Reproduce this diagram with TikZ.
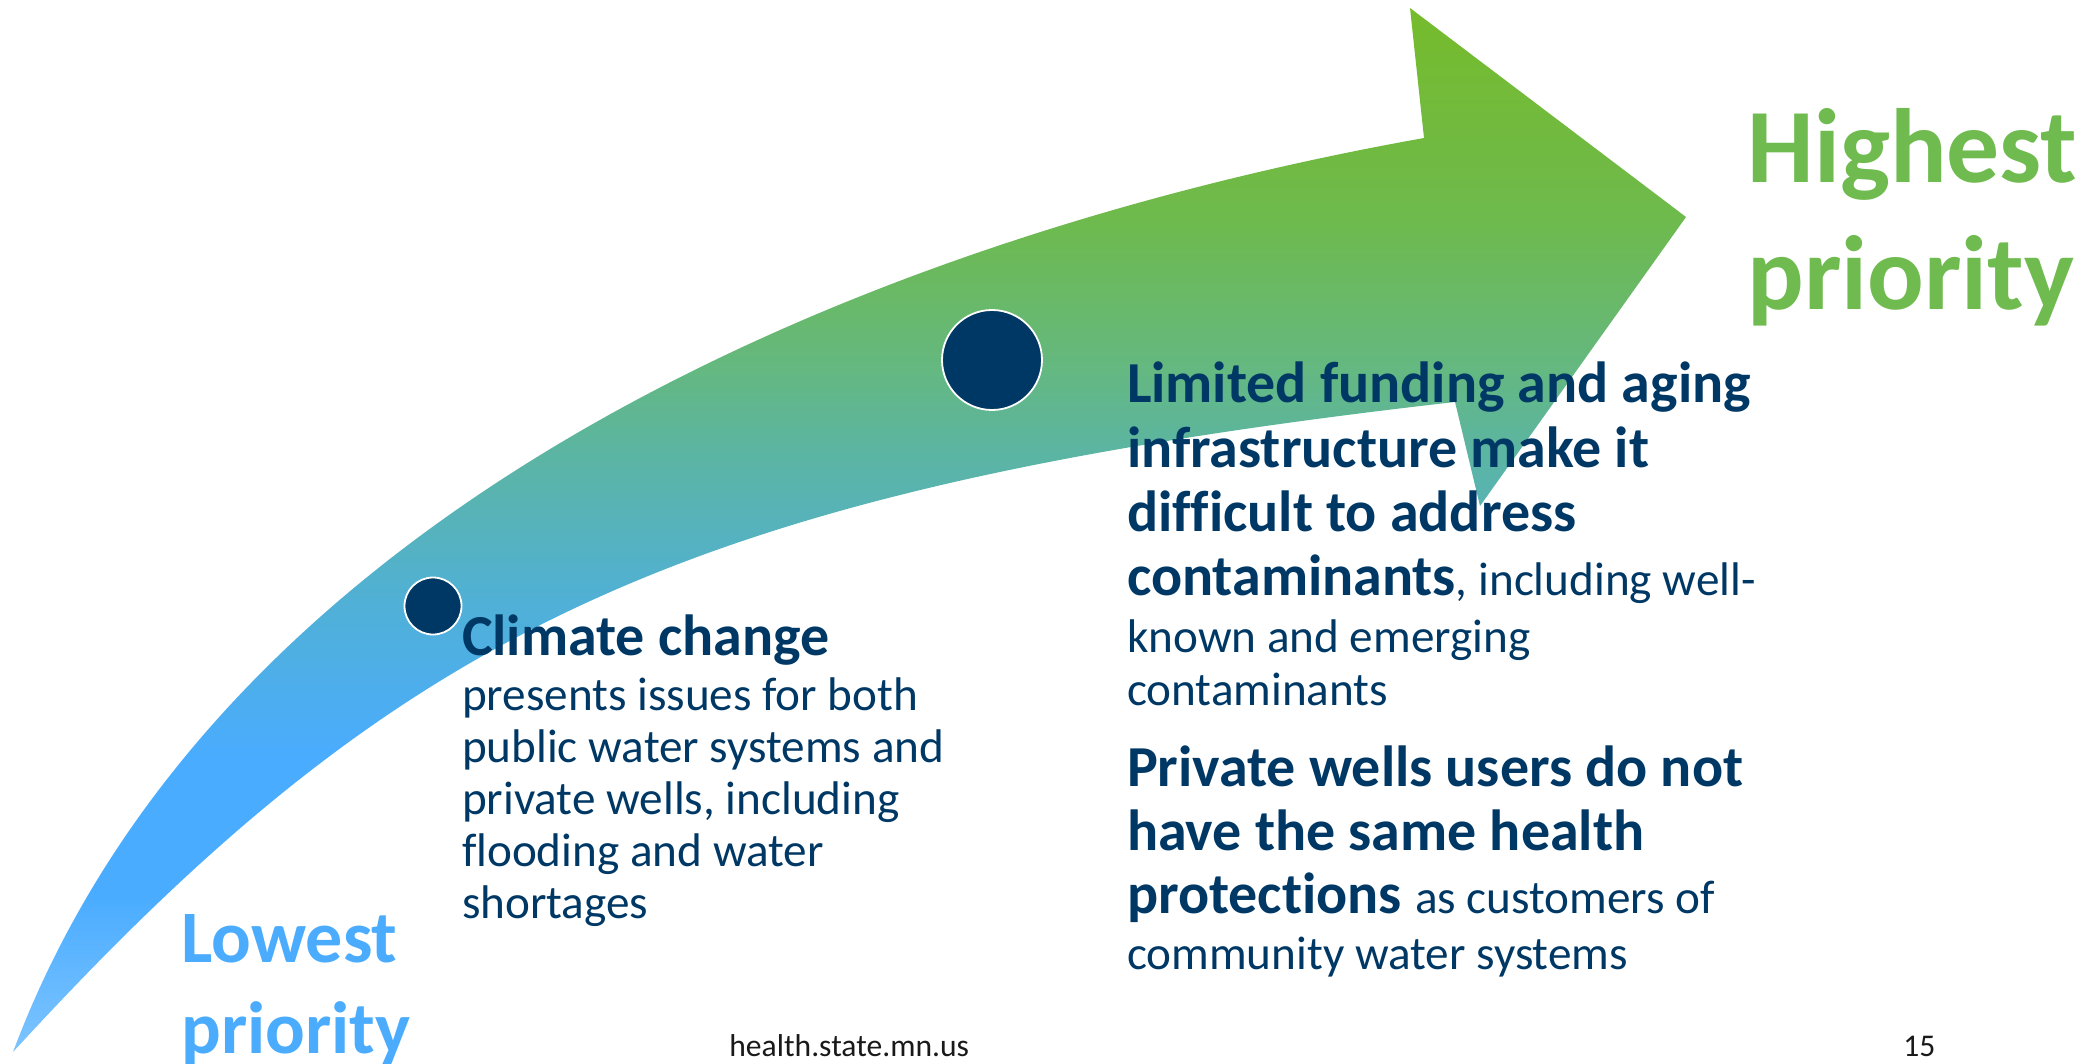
\documentclass[tikz,border=0pt]{standalone}
\usepackage{fontspec}
\setmainfont{Carlito}[Ligatures=NoCommon]
\definecolor{navy}{RGB}{0,56,101}
\definecolor{lowblue}{RGB}{75,172,254}
\definecolor{highgreen}{RGB}{112,187,80}
\definecolor{footgray}{RGB}{25,25,25}
\definecolor{gA}{RGB}{125,196,255}
\definecolor{gB}{RGB}{74,172,255}
\definecolor{gC}{RGB}{80,176,214}
\definecolor{gD}{RGB}{92,181,160}
\definecolor{gE}{RGB}{101,184,126}
\definecolor{gF}{RGB}{110,186,76}
\definecolor{gG}{RGB}{118,187,44}
% pgf maps the 25bp..75bp band of a shading onto the path's bounding box
\pgfdeclareverticalshading{arrowgrad}{100bp}{color(0bp)=(gA); color(25bp)=(gA); color(32.5bp)=(gB); color(39bp)=(gB); color(46.5bp)=(gC); color(54bp)=(gD); color(58bp)=(gE); color(65bp)=(gF); color(75bp)=(gG); color(100bp)=(gG)}
\begin{document}
\begin{tikzpicture}[x=0.5pt,y=-0.5pt,
  txt/.style={anchor=base west, inner sep=0pt, outer sep=0pt, text=navy},
  bodyb/.style={txt, font=\fontsize{29}{35}\selectfont\bfseries},
  bodyr/.style={txt, font=\fontsize{23.6}{28}\selectfont},
  bigblue/.style={anchor=base west, inner sep=0pt, text=lowblue, font=\fontsize{37}{44}\selectfont\bfseries},
  biggreen/.style={anchor=base west, inner sep=0pt, text=highgreen, font=\fontsize{52.8}{62}\selectfont\bfseries},
  foot/.style={anchor=base west, inner sep=0pt, text=footgray, font=\fontsize{15.8}{19}\selectfont},
  dot/.style={circle, fill=navy, draw=white, line width=0.9pt, inner sep=0pt}]
\useasboundingbox (0,0) rectangle (2099,1064);
% arrow
\shade[shading=arrowgrad]
  (13,1052) .. controls (220,500) and (880,235) .. (1424,138)
  -- (1410,8) -- (1686,217) -- (1480,506) -- (1455,402)
  .. controls (680,490) and (400,630) .. (13,1052) -- cycle;
% dots
\node[dot, minimum size=50pt] (d2) at (992,360) {};
\node[dot, minimum size=28.5pt] (d1) at (433,606) {};
% labels
\node[bigblue] (low1) at (181,962) {Lowest};
\node[bigblue] (low2) at (181,1053) {priority};
\node[biggreen] (hi1) at (1747,183) {Highest};
\node[biggreen] (hi2) at (1747,310) {priority};
% left block
\node[bodyb] (c1) at (462,655) {Climate change};
\node[bodyr] (c2) at (462,710) {presents issues for both};
\node[bodyr] (c3) at (462,762) {public water systems and};
\node[bodyr] (c4) at (462,814) {private wells, including};
\node[bodyr] (c5) at (462,866) {flooding and water};
\node[bodyr] (c6) at (462,918) {shortages};
% right block
\node[bodyb] (r1) at (1127,402) {Limited funding and aging};
\node[bodyb] (r2) at (1127,467) {infrastructure make it};
\node[bodyb] (r3) at (1127,531) {difficult to address};
\node[bodyb] (r4) at (1127,595) {contaminants\fontsize{23.6}{28}\selectfont\mdseries, including well-};
\node[bodyr] (r5) at (1127,652) {known and emerging};
\node[bodyr] (r6) at (1127,705) {contaminants};
\node[bodyb] (p1) at (1127,786) {Private wells users do not};
\node[bodyb] (p2) at (1127,850) {have the same health};
\node[bodyb] (p3) at (1127,913) {protections \fontsize{23.6}{28}\selectfont\mdseries as customers of};
\node[bodyr] (p4) at (1127,969) {community water systems};
% footer
\node[foot] (url) at (729,1056) {health.state.mn.us};
\node[foot] (pg) at (1903,1056) {15};
\end{tikzpicture}
\end{document}
